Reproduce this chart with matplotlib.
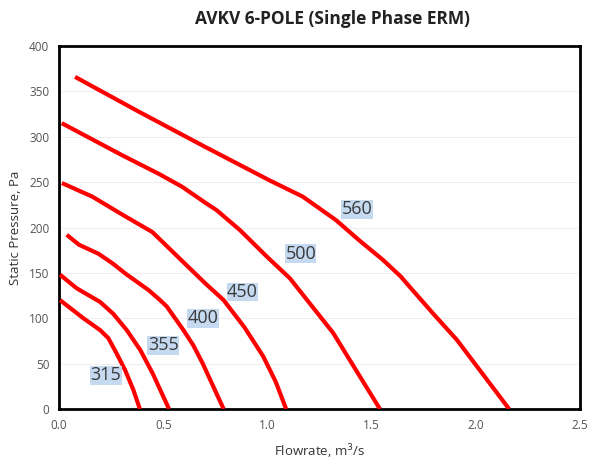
import matplotlib
matplotlib.use("Agg")
import matplotlib.pyplot as plt

# fan sizes and their fan curves (flowrate m3/s, static pressure Pa)
tailles = ["315", "355", "400", "450", "500", "560"]

x315 = [0.005, 0.117, 0.197, 0.237, 0.277, 0.317, 0.357, 0.388]
y315 = [120, 100, 87, 78, 61, 43, 21, 0]
x355 = [0.005, 0.085, 0.197, 0.26, 0.325, 0.39, 0.45, 0.528]
y355 = [148, 133, 118, 105, 87, 65, 39, 0]
x400 = [0.037, 0.096, 0.19, 0.26, 0.32, 0.43, 0.485, 0.517, 0.597, 0.645,
        0.69, 0.79]
y400 = [192, 181, 171, 160, 149, 131, 120, 113, 87, 70, 50, 0]
x450 = [0.014, 0.16, 0.32, 0.448, 0.56, 0.704, 0.79, 0.89, 0.98,
        1.04, 1.09]
y450 = [249, 234, 212, 195, 170, 138, 120, 90, 58, 30, 0]
x500 = [0.013, 0.30, 0.48, 0.59, 0.704, 0.757, 0.869, 0.997, 1.108, 1.315,
        1.54]
y500 = [315, 280, 259, 245, 227, 219, 197, 168, 144, 84, 0]
x560 = [0.077, 0.38, 0.70, 1.01, 1.17, 1.33, 1.44,
        1.556, 1.64, 1.67, 1.796, 1.91, 2.16]
y560 = [366, 328, 289, 252, 234, 208, 186, 164, 146, 138,
        105, 76, 0]

courbes = [(x315, y315), (x355, y355), (x400, y400),
           (x450, y450), (x500, y500), (x560, y560)]

# where the size labels sit
label_x = [0.225, 0.50, 0.69, 0.88, 1.16, 1.43]
label_y = [37, 70, 100, 129, 171, 220]

fig = plt.figure(figsize=(5.9, 4.62), dpi=100)
ax = fig.add_axes([0.1, 0.1147, 0.883, 0.7857])

for xs, ys in courbes:
    ax.plot(xs, ys, color="#ff0000", lw=3, solid_joinstyle="round",
            solid_capstyle="butt", zorder=3)

for nom, lx, ly in zip(tailles, label_x, label_y):
    ax.text(lx, ly, nom, ha="center", va="center", fontsize=13,
            color="#3a3a3a", family="Open Sans", zorder=4,
            bbox=dict(boxstyle="square,pad=0.02", fc="#c5d9f1", ec="none"))

ax.set_xlim(0, 2.5)
ax.set_ylim(0, 400)
ax.set_xticks([0, 0.5, 1.0, 1.5, 2.0, 2.5])
ax.set_xticklabels(["0.0", "0.5", "1.0", "1.5", "2.0", "2.5"])
ax.set_yticks(range(0, 401, 50))
ax.tick_params(length=0, labelsize=8.5, labelcolor="#555555", pad=7)
for t in ax.get_xticklabels() + ax.get_yticklabels():
    t.set_family("Open Sans")

ax.grid(axis="y", color="#eeeeee", lw=0.8, zorder=0)
for s in ax.spines.values():
    s.set_linewidth(2)
    s.set_color("black")

ax.set_xlabel("Flowrate, m$^3$/s", fontsize=9.5, color="#333333",
              family="Open Sans", labelpad=8)
ax.set_ylabel("Static Pressure, Pa", fontsize=9.5, color="#333333",
              family="Open Sans", labelpad=5)

fig.text(0.564, 0.958, "AVKV 6-POLE (Single Phase ERM)", ha="center",
         va="center", fontsize=12.5, fontweight="bold", color="#222222",
         family="Open Sans")

fig.savefig("out.png", dpi=100)
